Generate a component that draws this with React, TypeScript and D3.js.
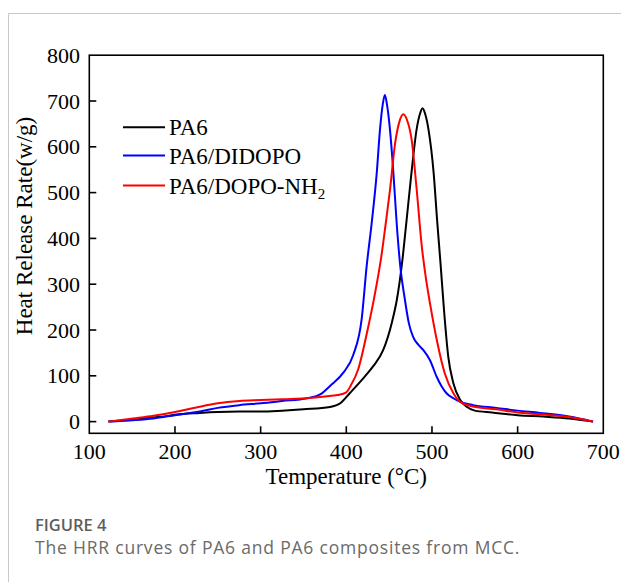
import React from "react";
import * as d3 from "d3";

// HRR curves: [temperature °C, heat release rate w/g]
const pa6: [number, number][] = [
  [122, 0], [150, 4], [175, 9], [190, 12], [200, 15], [229, 19], [250, 21], [275, 22],
  [300, 22], [325, 24], [350, 27], [381, 32], [393, 40], [404, 62], [420, 95],
  [431, 120], [443, 156], [453, 215], [459, 266], [465, 345], [470, 433], [476, 542],
  [482, 637], [486, 672], [489, 684], [492, 672], [496, 637], [502, 542], [506, 440],
  [510, 345], [514, 245], [519, 142], [525, 84], [533, 47], [541, 32], [550, 24],
  [570, 20], [600, 14], [630, 11], [660, 7], [688, 0],
];

const didopo: [number, number][] = [
  [124, 0], [150, 3], [175, 7], [200, 14], [229, 22], [250, 30], [275, 36],
  [300, 40], [325, 45], [354, 51], [370, 60], [381, 78], [397, 108], [408, 145],
  [418, 225], [423.8, 340], [429.6, 433], [435.5, 542], [439.3, 637], [442.5, 692],
  [445, 713], [447.5, 692], [451, 637], [455, 542], [458.8, 433], [462.7, 345],
  [468.5, 265], [473, 215], [478, 185], [484, 168], [490, 156], [497.7, 134],
  [505.5, 98], [511, 78], [517, 62], [525, 51], [533, 43], [548, 36], [575, 30],
  [600, 24], [626, 19], [660, 11], [688, 0],
];

const dopoNh2: [number, number][] = [
  [122, 0], [151, 7], [175, 13], [200, 21], [225, 31], [250, 40], [275, 45],
  [300, 47], [325, 49], [354, 51], [375, 55], [390, 58], [400, 64],
  [405, 78], [414, 115], [424, 193], [433.5, 280], [441, 362], [446, 432], [451, 506],
  [457, 608], [462, 655], [466.5, 671], [471, 658], [476.3, 615], [482, 510],
  [488, 385], [493, 312], [498, 255], [506, 175], [515, 105], [525, 62], [533, 43],
  [548, 33], [575, 27], [600, 20], [626, 16], [660, 10], [688, 0],
];

const seriesNames = ["PA6", "PA6/DIDOPO", "PA6/DOPO-NH"];
const seriesColors = ["#000000", "#0000ff", "#ff0000"];
const xTicks = [100, 200, 300, 400, 500, 600, 700];
const yTicks = [0, 100, 200, 300, 400, 500, 600, 700, 800];

const W = 621;
const H = 582;
const plot = { left: 89.3, right: 603.3, top: 55.2, bottom: 433.3 };
const serif = "'Liberation Serif', 'Times New Roman', serif";
const sans = "'Open Sans', sans-serif";

export default function App() {
  const x = d3.scaleLinear().domain([100, 700]).range([plot.left, plot.right]);
  const y = d3.scaleLinear().domain([-25.5, 800]).range([plot.bottom, plot.top]);

  const line = d3
    .line<[number, number]>()
    .x((d) => x(d[0]))
    .y((d) => y(d[1]))
    .curve(d3.curveMonotoneX);

  const data = [pa6, didopo, dopoNh2];
  const legendY = [127.3, 155.5, 185.5];

  return (
    <svg
      width={W}
      height={H}
      style={{ position: "absolute", left: 0, top: 0, background: "#fff" }}
    >
      {/* card border */}
      <path d={`M8.5,${H} V13.5 H${W}`} fill="none" stroke="#c8c8c8" strokeWidth={1} />

      {/* curves */}
      {data.map((d, i) => (
        <path
          key={seriesNames[i]}
          d={line(d) || ""}
          fill="none"
          stroke={seriesColors[i]}
          strokeWidth={2}
          strokeLinejoin="round"
        />
      ))}

      {/* frame */}
      <rect
        x={plot.left}
        y={plot.top}
        width={plot.right - plot.left}
        height={plot.bottom - plot.top}
        fill="none"
        stroke="#000"
        strokeWidth={1.6}
      />

      {/* x ticks */}
      {xTicks.map((t) => (
        <g key={"x" + t}>
          {t > 100 && t < 700 && (
            <line x1={x(t)} x2={x(t)} y1={plot.bottom} y2={plot.bottom - 7} stroke="#000" strokeWidth={1.6} />
          )}
          <text
            x={x(t)}
            y={459}
            textAnchor="middle"
            fontFamily={serif}
            fontSize={22}
            fill="#000"
          >
            {t}
          </text>
        </g>
      ))}

      {/* y ticks */}
      {yTicks.map((t) => (
        <g key={"y" + t}>
          {t < 800 && (
            <line x1={plot.left} x2={plot.left + 7} y1={y(t)} y2={y(t)} stroke="#000" strokeWidth={1.6} />
          )}
          <text
            x={80}
            y={y(t) + 7.5}
            textAnchor="end"
            fontFamily={serif}
            fontSize={22}
            fill="#000"
          >
            {t}
          </text>
        </g>
      ))}

      {/* axis titles */}
      <text
        x={(plot.left + plot.right) / 2}
        y={484}
        textAnchor="middle"
        fontFamily={serif}
        fontSize={23}
        fill="#000"
      >
        Temperature (°C)
      </text>
      <text
        transform={`translate(32,226) rotate(-90)`}
        textAnchor="middle"
        fontFamily={serif}
        fontSize={23}
        fill="#000"
      >
        Heat Release Rate(w/g)
      </text>

      {/* legend */}
      {seriesNames.map((n, i) => (
        <g key={"lg" + n}>
          <line x1={123} x2={165} y1={legendY[i]} y2={legendY[i]} stroke={seriesColors[i]} strokeWidth={2} />
          <text x={169} y={legendY[i] + 8} fontFamily={serif} fontSize={23} fill="#000">
            {n}
            {i === 2 && (
              <tspan fontSize={15} dy={5}>
                2
              </tspan>
            )}
          </text>
        </g>
      ))}

      {/* caption */}
      <text x={35} y={531} fontFamily={sans} fontWeight={600} fontSize={16.5} fill="#5e5e5e">
        FIGURE 4
      </text>
      <text x={35} y={554} fontFamily={sans} fontSize={17.5} letterSpacing={0.8} fill="#6a6a6a">
        The HRR curves of PA6 and PA6 composites from MCC.
      </text>
    </svg>
  );
}
